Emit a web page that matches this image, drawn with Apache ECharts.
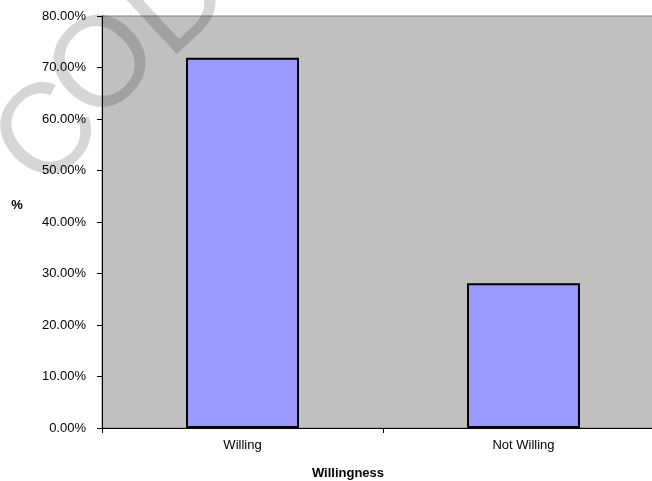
<!DOCTYPE html>
<html>
<head>
<meta charset="utf-8">
<script src="https://cdn.jsdelivr.net/npm/echarts@6/dist/echarts.min.js"></script>
<style>
  html, body { margin: 0; padding: 0; background: #fff; }
  #chart { width: 652px; height: 481px; }
</style>
</head>
<body>
<div id="chart"></div>
<script>
// Survey: share of respondents by willingness
const categories = ['Willing', 'Not Willing'];
const percentValues = [71.9, 28.1];
const yTicks = { min: 0, max: 80, step: 10 };
const xTitle = 'Willingness';
const yTitle = '%';

const FONT = '"Liberation Sans", Arial, sans-serif';
const chart = echarts.init(document.getElementById('chart'), null, { renderer: 'canvas' });

// faint stamped letters running diagonally over the upper-left corner
const stamp = (ch, x, y, deg) => ({
  type: 'text', z: 100, silent: true,
  x: x, y: y, rotation: deg * Math.PI / 180,
  style: {
    text: ch, fontFamily: FONT, fontSize: 128, fontWeight: 'normal',
    fill: 'rgba(0,0,0,0.16)', align: 'center', verticalAlign: 'middle'
  }
});

chart.setOption({
  animation: false,
  backgroundColor: '#ffffff',
  textStyle: { fontFamily: FONT },
  grid: {
    left: 102, top: 16, width: 562, height: 412,
    outerBoundsMode: 'none',
    show: true, backgroundColor: '#C0C0C0',
    borderColor: '#808080', borderWidth: 1
  },
  xAxis: {
    type: 'category',
    data: categories,
    boundaryGap: true,
    axisLine: { show: true, lineStyle: { color: '#000', width: 1 } },
    axisTick: { show: true, length: 5, lineStyle: { color: '#000' } },
    axisLabel: { color: '#000', fontSize: 13, fontFamily: FONT, margin: 11 },
    splitLine: { show: false }
  },
  yAxis: {
    type: 'value',
    min: yTicks.min, max: yTicks.max, interval: yTicks.step,
    axisLine: { show: true, lineStyle: { color: '#000', width: 1 } },
    axisTick: { show: true, length: 5, lineStyle: { color: '#000' } },
    axisLabel: {
      color: '#000', fontSize: 13, fontFamily: FONT, margin: 16,
      formatter: v => v.toFixed(2) + '%'
    },
    splitLine: { show: false }
  },
  series: [{
    type: 'bar',
    data: percentValues,
    barWidth: 113,
    itemStyle: { color: '#9999FF', borderColor: '#000', borderWidth: 2 }
  }],
  graphic: [
    {
      type: 'text', x: 348, y: 473,
      style: { text: xTitle, fontFamily: FONT, fontSize: 13, fontWeight: 'bold',
               fill: '#000', align: 'center', verticalAlign: 'middle' }
    },
    {
      type: 'text', x: 17, y: 205,
      style: { text: yTitle, fontFamily: FONT, fontSize: 13, fontWeight: 'bold',
               fill: '#000', align: 'center', verticalAlign: 'middle' }
    },
    stamp('C', 50, 136, 45),
    stamp('O', 106, 67, 45),
    stamp('D', 179, 4, 43)
  ]
});
</script>
</body>
</html>
